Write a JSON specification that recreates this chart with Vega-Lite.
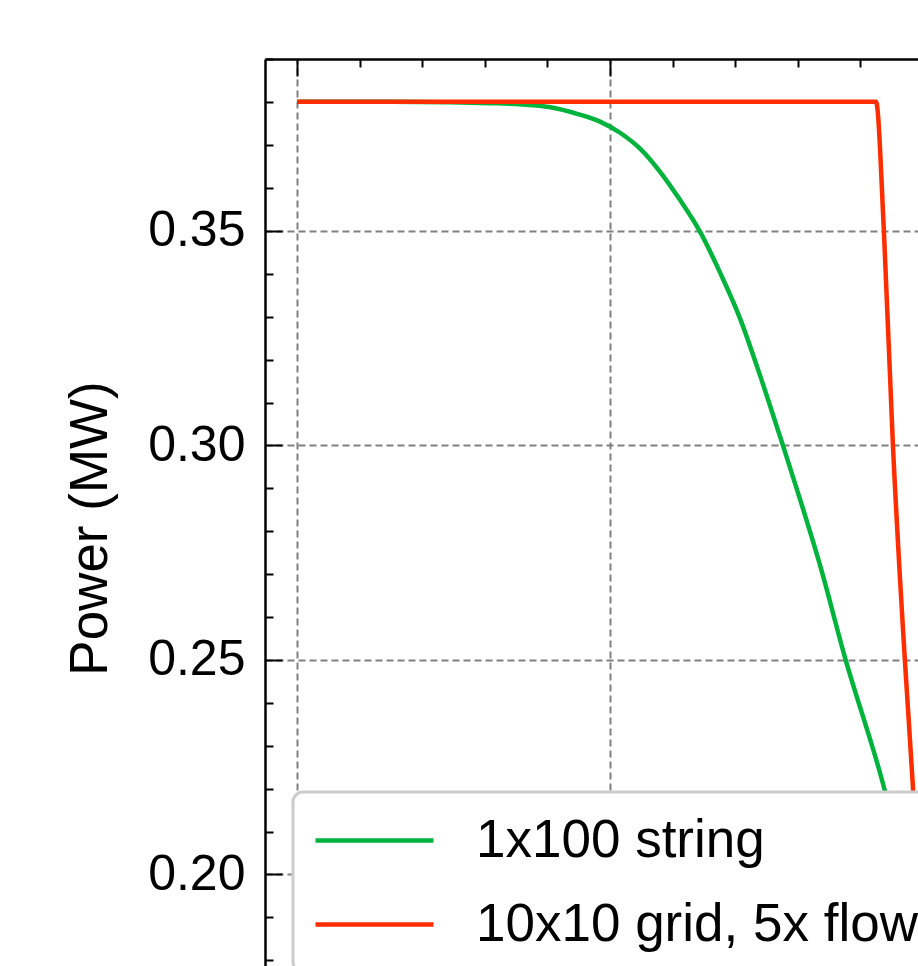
{
  "$schema": "https://vega.github.io/schema/vega-lite/v6.json",
  "width": 653,
  "height": 907,
  "autosize": {"type": "none"},
  "padding": {"left": 265, "top": 59, "right": 0, "bottom": 0},
  "background": "white",
  "config": {"view": {"stroke": null}, "font": "Liberation Sans", "legend": {"strokeWidth": 3}},
  "data": {
    "values": [
      {"series": "1x100 string", "x": 0, "y": 0.3801},
      {"series": "1x100 string", "x": 0.3, "y": 0.3801},
      {"series": "1x100 string", "x": 0.489, "y": 0.38},
      {"series": "1x100 string", "x": 0.617, "y": 0.3798},
      {"series": "1x100 string", "x": 0.72, "y": 0.3795},
      {"series": "1x100 string", "x": 0.805, "y": 0.3789},
      {"series": "1x100 string", "x": 0.9, "y": 0.3772},
      {"series": "1x100 string", "x": 0.968, "y": 0.3755},
      {"series": "1x100 string", "x": 1.032, "y": 0.3729},
      {"series": "1x100 string", "x": 1.096, "y": 0.3692},
      {"series": "1x100 string", "x": 1.16, "y": 0.3638},
      {"series": "1x100 string", "x": 1.224, "y": 0.3572},
      {"series": "1x100 string", "x": 1.288, "y": 0.3498},
      {"series": "1x100 string", "x": 1.351, "y": 0.3404},
      {"series": "1x100 string", "x": 1.415, "y": 0.3297},
      {"series": "1x100 string", "x": 1.479, "y": 0.3164},
      {"series": "1x100 string", "x": 1.553, "y": 0.2999},
      {"series": "1x100 string", "x": 1.607, "y": 0.2875},
      {"series": "1x100 string", "x": 1.671, "y": 0.2721},
      {"series": "1x100 string", "x": 1.751, "y": 0.2505},
      {"series": "1x100 string", "x": 1.863, "y": 0.2236},
      {"series": "1x100 string", "x": 2.022, "y": 0.1765},
      {"series": "10x10 grid, 5x flow", "x": 0, "y": 0.3801},
      {"series": "10x10 grid, 5x flow", "x": 1.85, "y": 0.3801},
      {"series": "10x10 grid, 5x flow", "x": 1.875, "y": 0.35},
      {"series": "10x10 grid, 5x flow", "x": 1.904, "y": 0.2999},
      {"series": "10x10 grid, 5x flow", "x": 1.942, "y": 0.25},
      {"series": "10x10 grid, 5x flow", "x": 1.968, "y": 0.2202},
      {"series": "10x10 grid, 5x flow", "x": 1.997, "y": 0.179}
    ]
  },
  "mark": {"type": "line", "strokeWidth": 4.5, "clip": true, "interpolate": "monotone"},
  "encoding": {
    "x": {
      "field": "x",
      "type": "quantitative",
      "scale": {"domain": [-0.1022, 1.984], "nice": false, "zero": false},
      "axis": {
        "orient": "top",
        "values": [0, 0.2, 0.4, 0.6, 0.8, 1, 1.2, 1.4, 1.6, 1.8],
        "labels": false,
        "title": null,
        "domain": true,
        "domainColor": "black",
        "domainWidth": 2.5,
        "tickColor": "black",
        "tickWidth": 2,
        "tickSize": {"condition": {"test": "abs(datum.value - round(datum.value)) < 0.01", "value": -17}, "value": -8},
        "grid": true,
        "gridColor": "#808080",
        "gridDash": [7, 4],
        "gridWidth": 2,
        "gridOpacity": {"condition": {"test": "abs(datum.value - round(datum.value)) < 0.01", "value": 1}, "value": 0}
      }
    },
    "y": {
      "field": "y",
      "type": "quantitative",
      "scale": {"domain": [0.17867, 0.39009], "nice": false, "zero": false},
      "axis": {
        "orient": "left",
        "values": [0.18, 0.19, 0.2, 0.21, 0.22, 0.23, 0.24, 0.25, 0.26, 0.27, 0.28, 0.29, 0.3, 0.31, 0.32, 0.33, 0.34, 0.35, 0.36, 0.37, 0.38, 0.39],
        "title": "Power (MW)",
        "titleFontSize": 53,
        "titleFontWeight": "normal",
        "titleColor": "black",
        "titleY": 469,
        "titlePadding": 30,
        "labelFontSize": 50,
        "labelColor": "black",
        "labelOverlap": false,
        "labelFlush": false,
        "labelPadding": 37,
        "labelExpr": "abs(datum.value*20 - round(datum.value*20)) < 0.01 ? format(datum.value, '.2f') : ''",
        "domain": true,
        "domainColor": "black",
        "domainWidth": 2.5,
        "tickColor": "black",
        "tickWidth": 2,
        "tickSize": {"condition": {"test": "abs(datum.value*20 - round(datum.value*20)) < 0.01", "value": -17}, "value": -8},
        "grid": true,
        "gridColor": "#808080",
        "gridDash": [7, 4],
        "gridWidth": 2,
        "gridOpacity": {"condition": {"test": "abs(datum.value*20 - round(datum.value*20)) < 0.01", "value": 1}, "value": 0}
      }
    },
    "color": {
      "field": "series",
      "type": "nominal",
      "scale": {"domain": ["1x100 string", "10x10 grid, 5x flow"], "range": ["#00b33c", "#ff2d00"]},
      "legend": {
        "orient": "none",
        "legendX": 28,
        "legendY": 733,
        "title": null,
        "symbolType": "M-2.27,0H2.27",
        "symbolSize": 2704,
        "symbolOffset": 33,
        "symbolStrokeWidth": 4.5,
        "labelFontSize": 53,
        "labelFont": "Liberation Sans",
        "labelColor": "black",
        "labelOffset": 73,
        "labelLimit": 0,
        "padding": 20,
        "rowPadding": 28,
        "fillColor": "white",
        "strokeColor": "#cccccc",
        "cornerRadius": 10,
        "zindex": 2
      }
    }
  }
}
